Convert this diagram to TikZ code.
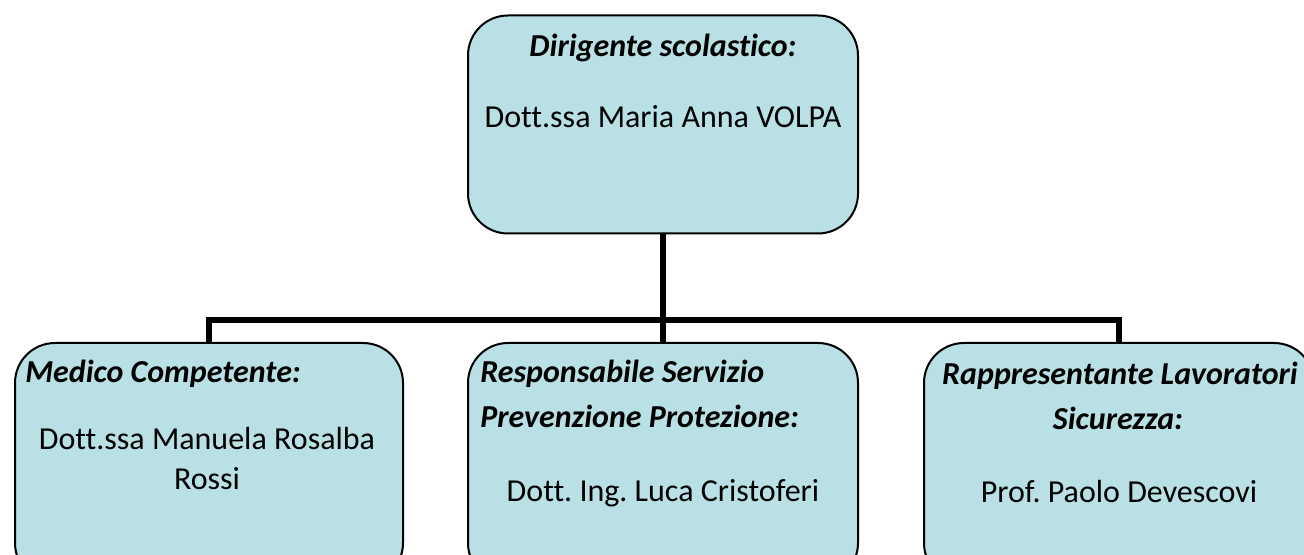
\documentclass[tikz,border=0pt]{standalone}
\usepackage{fontspec}
\setmainfont{Carlito}[Ligatures=NoCommon]
\frenchspacing
\definecolor{boxfill}{RGB}{185,224,228}
\begin{document}
\begin{tikzpicture}[x=0.75pt,y=-0.75pt,font=\fontsize{24}{28}\selectfont]
  \tikzstyle{role box}=[draw,line width=1.5pt,fill=boxfill,rounded corners=30pt,inner sep=0pt,minimum width=292.5pt]
  \tikzstyle{role text}=[inner sep=0pt,anchor=base,font=\fontsize{24}{28}\selectfont\bfseries\itshape]
  \tikzstyle{person text}=[inner sep=0pt,anchor=base]
  \tikzstyle{conn}=[line width=4.5pt]

  \useasboundingbox (0,0) rectangle (1304,555);

  % boxes
  \node(0)[role box,minimum height=163.5pt] at (663,124.5) {};
  \node(1)[role box,minimum height=180pt,minimum width=291pt] at (209,463) {};
  \node(2)[role box,minimum height=180pt] at (663,463) {};
  \node(3)[role box,minimum height=180pt] at (1119,463) {};

  % connectors
  \coordinate(j) at (663,320);
  \draw[conn] (0.south) -- (2.north);
  \draw[conn] (1.north) |- (j) -| (3.north);

  % texts
  \node(0a)[role text] at (663,57) {Dirigente scolastico:};
  \node(0b)[person text] at (663,128) {Dott.ssa Maria Anna VOLPA};

  \node(1a)[role text,anchor=base west] at (25,383) {Medico Competente:};
  \node(1b)[person text] at (207,450) {Dott.ssa Manuela Rosalba};
  \node(1c)[person text] at (207,490) {Rossi};

  \node(2a)[role text,anchor=base west] at (480,383) {Responsabile Servizio};
  \node(2b)[role text,anchor=base west] at (480,428) {Prevenzione Protezione:};
  \node(2c)[person text] at (663,502) {Dott. Ing. Luca Cristoferi};

  \node(3a)[role text] at (1120,385) {Rappresentante Lavoratori};
  \node(3b)[role text] at (1118,430) {Sicurezza:};
  \node(3c)[person text] at (1119,503) {Prof. Paolo Devescovi};
\end{tikzpicture}
\end{document}
